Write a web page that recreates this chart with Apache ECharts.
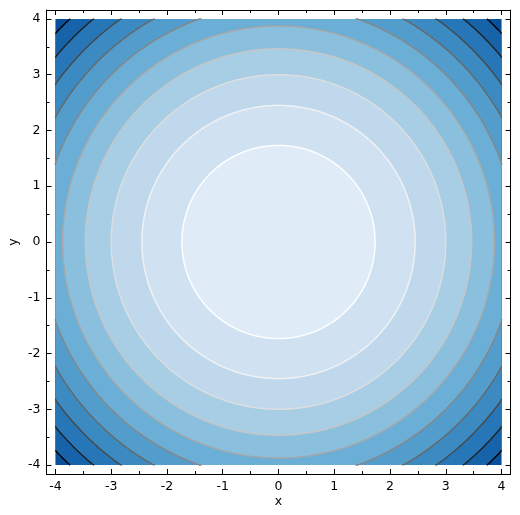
<!DOCTYPE html>
<html><head><meta charset="utf-8">
<script src="https://cdn.jsdelivr.net/npm/echarts@6/dist/echarts.min.js"></script>
<style>html,body{margin:0;padding:0;background:#fff}#c{width:520px;height:515px}</style>
</head><body><div id="c"></div>
<script>
// ---- data ----
// filled contour levels of z = x^2 + y^2
const fillLevels = [0, 3, 6, 9, 12, 15, 18, 21, 24, 27, 30, 33];
// contour line levels
const lineLevels = [3, 6, 9, 12, 15, 18, 21, 24, 27, 30];
// data domain (square)
const xDomain = [-4, 4];
const yDomain = [-4, 4];
// tick values
const xTicks = [-4, -3, -2, -1, 0, 1, 2, 3, 4];
const yTicks = [-4, -3, -2, -1, 0, 1, 2, 3, 4];
const xMinorTicks = [-3.5, -2.5, -1.5, -0.5, 0.5, 1.5, 2.5, 3.5];
const yMinorTicks = [-3.5, -2.5, -1.5, -0.5, 0.5, 1.5, 2.5, 3.5];
// axis view limits
const xLimits = [-4.16, 4.16];
const yLimits = [-4.16, 4.16];

// ---- styles ----
const bandColors = ['#dfecf7', '#d0e2f2', '#bfd8ec', '#a7cee4', '#8abfdd', '#6baed6',
                    '#529dcc', '#3b8bc2', '#2777b8', '#1663aa', '#08509a'];
const lineColors = ['#ffffff', '#f2f2f2', '#dedede', '#c6c6c6', '#a7a7a7', '#868686',
                    '#686868', '#484848', '#212121', '#000000'];
const FONT = 'DejaVu Sans';
const FS = 12.5;

// bands: [low, high, colorIndex], drawn outermost first
const bands = [];
for (let i = fillLevels.length - 2; i >= 0; i--) bands.push([fillLevels[i], fillLevels[i + 1], i]);
const lines = lineLevels.map((v, i) => [v, v, i]);

const N = 720;
function clamp(v, a, b) { return Math.max(a, Math.min(b, v)); }

function renderFill(params, api) {
  const hi = api.value(1);
  const idx = api.value(2);
  const r = Math.sqrt(hi);
  const pts = [];
  for (let k = 0; k < N; k++) {
    const t = 2 * Math.PI * k / N;
    const x = clamp(r * Math.cos(t), xDomain[0], xDomain[1]);
    const y = clamp(r * Math.sin(t), yDomain[0], yDomain[1]);
    pts.push(api.coord([x, y]));
  }
  return { type: 'polygon', shape: { points: pts }, style: { fill: bandColors[idx], stroke: null } };
}

function renderLine(params, api) {
  const lv = api.value(0);
  const idx = api.value(2);
  const r = Math.sqrt(lv);
  const segs = [];
  let cur = null;
  let startIdx = 0;
  for (let k = 0; k < N; k++) {
    const t = 2 * Math.PI * k / N;
    const x = r * Math.cos(t), y = r * Math.sin(t);
    if (Math.abs(x) > 4 || Math.abs(y) > 4) { startIdx = k; break; }
  }
  for (let j = 0; j <= N; j++) {
    const k = (startIdx + j) % N;
    const t = 2 * Math.PI * k / N;
    const x = r * Math.cos(t), y = r * Math.sin(t);
    const inside = x >= xDomain[0] && x <= xDomain[1] && y >= yDomain[0] && y <= yDomain[1];
    if (inside) {
      if (!cur) {
        cur = [];
        const tp = 2 * Math.PI * (k - 1) / N;
        cur.push(api.coord([clamp(r * Math.cos(tp), -4, 4), clamp(r * Math.sin(tp), -4, 4)]));
      }
      cur.push(api.coord([x, y]));
    } else if (cur) {
      cur.push(api.coord([clamp(x, -4, 4), clamp(y, -4, 4)]));
      segs.push(cur); cur = null;
    }
  }
  if (cur) segs.push(cur);
  return {
    type: 'group',
    children: segs.map(p => ({
      type: 'polyline', shape: { points: p },
      style: { stroke: lineColors[idx], lineWidth: 1.4, fill: null }
    }))
  };
}

function xAx(pos, ticks, len, showLine, showLabel) {
  return {
    type: 'value', position: pos, min: xLimits[0], max: xLimits[1],
    splitLine: { show: false },
    axisLine: { show: showLine, onZero: false, lineStyle: { color: '#000', width: 1 } },
    axisTick: { show: true, inside: true, length: len, customValues: ticks, lineStyle: { color: '#000', width: 1 } },
    axisLabel: showLabel ? { show: true, customValues: ticks, margin: 6, color: '#000', fontSize: FS, fontFamily: FONT,
      formatter: v => String(v) } : { show: false },
    name: showLabel ? 'x' : '', nameLocation: 'middle', nameGap: 21, nameMoveOverlap: false,
    nameTextStyle: { color: '#000', fontSize: FS, fontFamily: FONT }
  };
}
function yAx(pos, ticks, len, showLine, showLabel) {
  return {
    type: 'value', position: pos, min: yLimits[0], max: yLimits[1],
    splitLine: { show: false },
    axisLine: { show: showLine, onZero: false, lineStyle: { color: '#000', width: 1 } },
    axisTick: { show: true, inside: true, length: len, customValues: ticks, lineStyle: { color: '#000', width: 1 } },
    axisLabel: showLabel ? { show: true, customValues: ticks, margin: 6, color: '#000', fontSize: FS, fontFamily: FONT,
      formatter: v => String(v) } : { show: false },
    name: showLabel ? 'y' : '', nameLocation: 'middle', nameGap: 26, nameRotate: 90, nameMoveOverlap: false,
    nameTextStyle: { color: '#000', fontSize: FS, fontFamily: FONT }
  };
}

const chart = echarts.init(document.getElementById('c'), null, { renderer: 'canvas' });
chart.setOption({
  animation: false,
  backgroundColor: '#fff',
  grid: { left: 46.5, right: 9.5, top: 10, bottom: 41, containLabel: false, outerBoundsMode: 'none' },
  xAxis: [
    xAx('bottom', xTicks, 5, true, true),
    xAx('top', xTicks, 5, true, false),
    xAx('bottom', xMinorTicks, 3, false, false),
    xAx('top', xMinorTicks, 3, false, false)
  ],
  yAxis: [
    yAx('left', yTicks, 5, true, true),
    yAx('right', yTicks, 5, true, false),
    yAx('left', yMinorTicks, 3, false, false),
    yAx('right', yMinorTicks, 3, false, false)
  ],
  series: [
    { type: 'custom', xAxisIndex: 0, yAxisIndex: 0, renderItem: renderFill, data: bands, silent: true, z: 1 },
    { type: 'custom', xAxisIndex: 0, yAxisIndex: 0, renderItem: renderLine, data: lines, silent: true, z: 2 }
  ]
});
</script></body></html>
